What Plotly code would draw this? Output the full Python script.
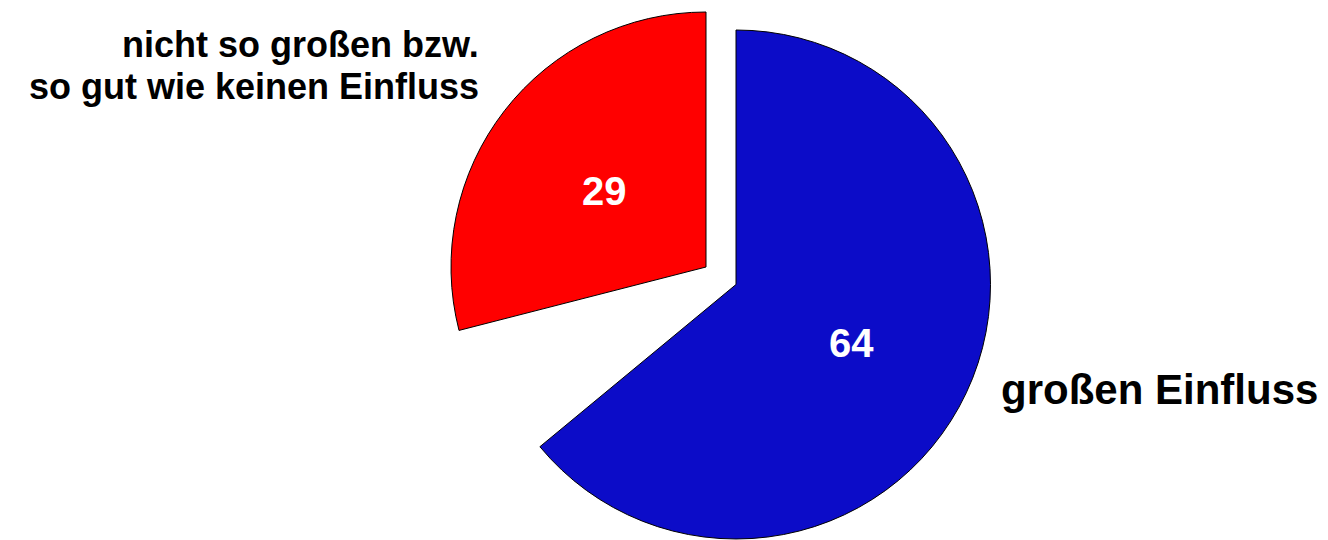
import plotly.graph_objects as go

# Data
categories = ["großen Einfluss", "keine Angabe", "nicht so großen bzw. so gut wie keinen Einfluss"]
values = [64, 7, 29]
colors = ["#0c0cc8", "rgba(0,0,0,0)", "#ff0000"]
label_left = ["nicht so großen bzw.", "so gut wie keinen Einfluss"]
label_right = "großen Einfluss"

W, H = 1328, 540
OFF = 8  # page body margin compensation
FONT = "Liberation Sans, Arial, Helvetica, sans-serif"
NONE = "rgba(0,0,0,0)"


def px_dom(cx, cy, r):
    cx -= OFF
    cy -= OFF
    return dict(x=[(cx - r) / W, (cx + r) / W], y=[(H - cy - r) / H, (H - cy + r) / H])


def px_x(x):
    return (x - OFF) / W


def px_y(y):
    return 1 - (y - OFF) / H


fig = go.Figure()

# Main pie (blue slice visible)
fig.add_trace(go.Pie(
    values=values,
    labels=categories,
    sort=False,
    direction="clockwise",
    rotation=0,
    marker=dict(colors=[colors[0], NONE, NONE],
                line=dict(color=["#000000", NONE, NONE], width=1)),
    textinfo="none",
    domain=px_dom(736, 284.5, 254.5),
    showlegend=False,
    hoverinfo="skip",
))

# Exploded red slice
fig.add_trace(go.Pie(
    values=values,
    labels=categories,
    sort=False,
    direction="clockwise",
    rotation=0,
    marker=dict(colors=[NONE, NONE, colors[2]],
                line=dict(color=[NONE, NONE, "#000000"], width=1)),
    textinfo="none",
    domain=px_dom(706, 267, 255),
    showlegend=False,
    hoverinfo="skip",
))

num_font = dict(family=FONT, size=40, color="white", weight="bold")
fig.add_annotation(text=str(values[0]), x=px_x(851), y=px_y(342.5), xref="paper", yref="paper",
                   xanchor="center", yanchor="middle", showarrow=False, font=num_font)
fig.add_annotation(text=str(values[2]), x=px_x(604), y=px_y(190.5), xref="paper", yref="paper",
                   xanchor="center", yanchor="middle", showarrow=False, font=num_font)

lab_font = dict(family=FONT, size=36, color="black", weight="bold")
fig.add_annotation(text=label_left[0], x=px_x(480), y=px_y(44.5), borderpad=0,
                   xref="paper", yref="paper", xanchor="right", yanchor="middle", showarrow=False,
                   font=lab_font)
fig.add_annotation(text=label_left[1], x=px_x(480), y=px_y(86.5), borderpad=0,
                   xref="paper", yref="paper", xanchor="right", yanchor="middle", showarrow=False,
                   font=lab_font)
fig.add_annotation(text=label_right, x=px_x(999), y=px_y(389), xref="paper", yref="paper",
                   xanchor="left", yanchor="middle", showarrow=False,
                   font=dict(family=FONT, size=42, color="black", weight="bold"))

fig.update_layout(
    width=W, height=H,
    margin=dict(l=0, r=0, t=0, b=0),
    paper_bgcolor="white",
    plot_bgcolor="white",
)

fig.write_html("out.html")
